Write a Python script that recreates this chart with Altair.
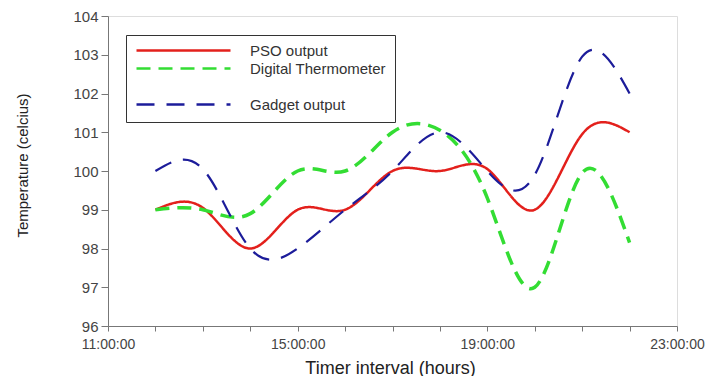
import altair as alt
import pandas as pd

# ---- data ----
hours = [12, 13, 14, 15, 16, 17, 18, 19, 20, 21, 22]
pso_output = [99.0, 99.05, 98.0, 99.0, 99.0, 100.0, 100.0, 100.05, 99.0, 100.95, 101.0]
digital_thermometer = [99.0, 99.0, 98.9, 100.0, 100.0, 101.0, 101.05, 99.3, 97.0, 99.95, 98.15]
gadget_output = [100.0, 100.05, 98.0, 98.0, 99.0, 100.0, 101.0, 100.0, 99.9, 102.95, 102.0]

series_names = ["PSO output", "Digital Thermometer", "Gadget output"]
x_ticks = list(range(11, 24))
x_labelled = [11, 15, 19, 23]
y_ticks = list(range(96, 105))

rows = []
for name, vals in zip(series_names, [pso_output, digital_thermometer, gadget_output]):
    for h, v in zip(hours, vals):
        rows.append({"hour": h, "temp": v, "series": name})
df = pd.DataFrame(rows)

# legend has a visual gap before the third entry
legend_domain = ["PSO output", "Digital Thermometer", " ", "Gadget output"]
colors = ["#e3201c", "#33dd33", "rgba(0,0,0,0)", "#1c1c9a"]
dashes = [[1, 0], [14, 8], [1, 0], [18, 12]]
widths = [2.5, 3.5, 2.2]

FONT = "Liberation Sans"

label_expr = "indexof([" + ",".join(str(v) for v in x_labelled) + "], datum.value) >= 0 ? datum.value + ':00:00' : ''"

legend_opts = dict(title=None, orient="none", legendX=18, legendY=19,
                   symbolType="stroke", symbolSize=8836, symbolStrokeWidth=2.5,
                   clipHeight=13, rowPadding=2, labelFontSize=15, labelFont=FONT,
                   labelColor="#333", labelOffset=18, padding=9,
                   strokeColor="#333", fillColor="white")

chart = alt.Chart(df).mark_line(interpolate="natural").encode(
    x=alt.X("hour:Q",
            scale=alt.Scale(domain=[11, 23], nice=False, zero=False),
            axis=alt.Axis(values=x_ticks, labelExpr=label_expr, title="Timer interval (hours)",
                          grid=False, tickSize=5, labelPadding=6, labelOverlap=False, labelFlush=False,
                          labelFontSize=14, labelColor="#444", labelFont=FONT,
                          titleFontSize=18, titleFontWeight="normal", titleColor="#222", titleFont=FONT,
                          titleX=282, titleY=42, titleBaseline="middle", titleAlign="center",
                          domainColor="#777", tickColor="#777")),
    y=alt.Y("temp:Q",
            scale=alt.Scale(domain=[96, 104], nice=False, zero=False),
            axis=alt.Axis(values=y_ticks, format="d", title="Temperature (celcius)",
                          grid=False, tickSize=7, labelPadding=3,
                          labelFontSize=15, labelColor="#444", labelFont=FONT,
                          titleFontSize=15, titleFontWeight="normal", titleColor="#222", titleFont=FONT,
                          titleX=-86, titleY=149, titleAngle=-90, titleBaseline="middle", titleAlign="center",
                          domainColor="#777", tickColor="#777")),
    color=alt.Color("series:N",
                    scale=alt.Scale(domain=legend_domain, range=colors),
                    legend=alt.Legend(**legend_opts)),
    strokeDash=alt.StrokeDash("series:N",
                              scale=alt.Scale(domain=legend_domain, range=dashes),
                              legend=alt.Legend(**legend_opts)),
    strokeWidth=alt.StrokeWidth("series:N",
                                scale=alt.Scale(type="ordinal", domain=series_names, range=widths),
                                legend=None),
).properties(
    width=569, height=310,
    autosize=alt.AutoSizeParams(type="none"),
    padding={"left": 100, "top": 8, "right": 28, "bottom": 50},
).configure_view(
    stroke="#777", strokeWidth=1.5
).configure(background="white")

chart.save("out.html", embed_options={"renderer": "svg", "actions": False})
